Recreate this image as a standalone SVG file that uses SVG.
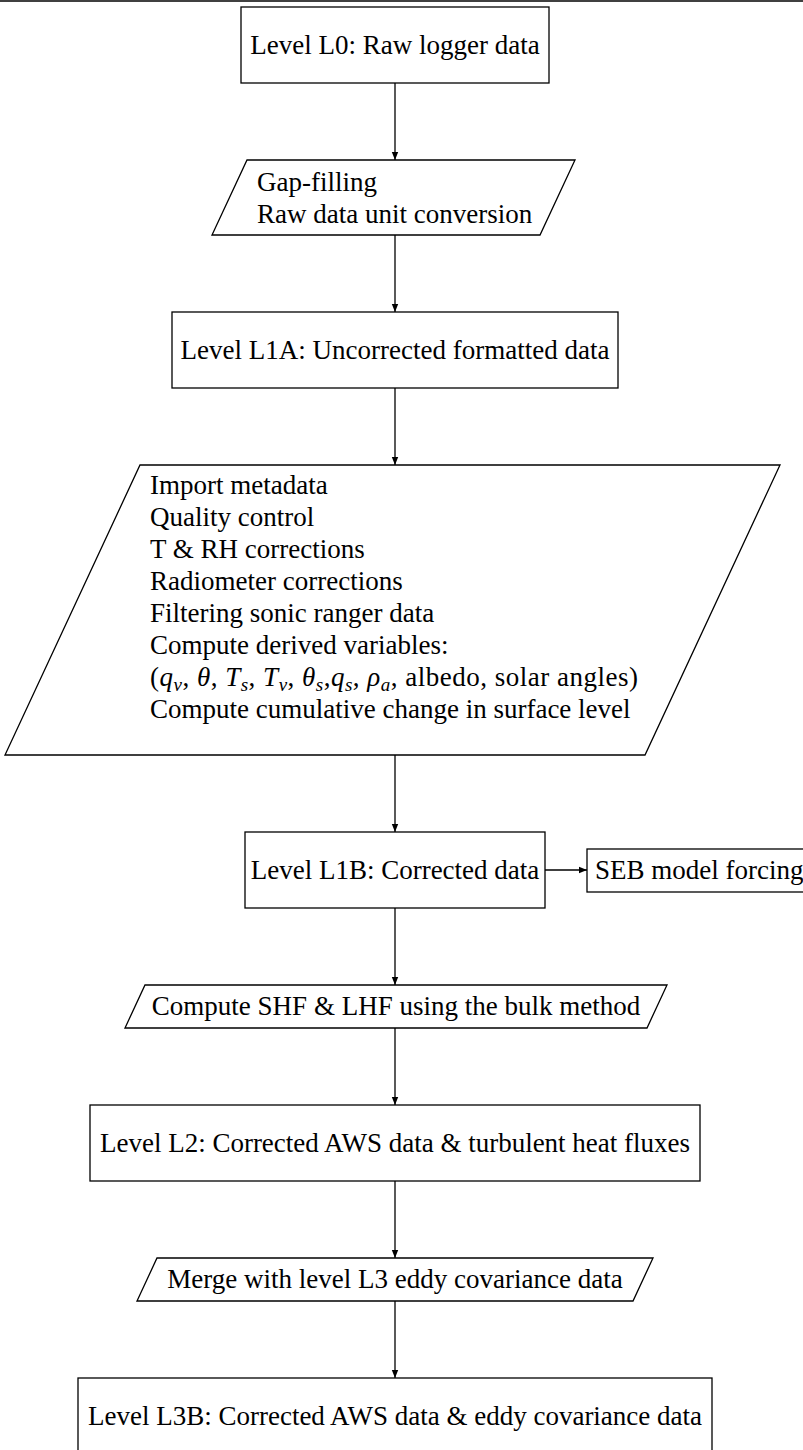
<svg xmlns="http://www.w3.org/2000/svg" width="803" height="1450" viewBox="0 0 803 1450">
<defs>
<style>
.n{fill:#fff;stroke:#000;stroke-width:1.3}
.t{font-family:"Liberation Serif","DejaVu Serif",serif;font-size:27px;fill:#000}
.c{text-anchor:middle}
.i{font-style:italic}
.s{font-style:italic;font-size:19px}
.e{stroke:#000;stroke-width:1.3;fill:none;marker-end:url(#ah)}
</style>
<marker id="ah" viewBox="0 0 10 10" refX="10" refY="5" markerWidth="9" markerHeight="8" markerUnits="userSpaceOnUse" orient="auto">
<path d="M0,1 L10,5 L0,9 Z" fill="#000"/>
</marker>
</defs>
<line x1="0" y1="1" x2="803" y2="1" stroke="#000" stroke-width="1.5"/>
<g id="edges">
<line class="e" x1="395" y1="83" x2="395" y2="160"/>
<line class="e" x1="395" y1="235" x2="395" y2="312"/>
<line class="e" x1="395" y1="388" x2="395" y2="465"/>
<line class="e" x1="395" y1="755" x2="395" y2="832"/>
<line class="e" x1="545" y1="870" x2="587" y2="870"/>
<line class="e" x1="395" y1="908" x2="395" y2="985"/>
<line class="e" x1="395" y1="1028" x2="395" y2="1105"/>
<line class="e" x1="395" y1="1181" x2="395" y2="1258"/>
<line class="e" x1="395" y1="1301" x2="395" y2="1378"/>
</g>
<g id="l0">
<rect class="n" x="241" y="7" width="308" height="76"/>
<text class="t c" x="395" y="54">Level L0: Raw logger data</text>
</g>
<g id="p1">
<polygon class="n" points="247,160 575,160 540,235 212,235"/>
<text class="t" x="257" y="191">Gap-filling</text>
<text class="t" x="257" y="223">Raw data unit conversion</text>
</g>
<g id="l1a">
<rect class="n" x="172" y="312" width="446" height="76"/>
<text class="t c" x="395" y="359">Level L1A: Uncorrected formatted data</text>
</g>
<g id="p2">
<polygon class="n" points="140,465 780,465 645,755 5,755"/>
<text class="t" x="150" y="494">Import metadata</text>
<text class="t" x="150" y="526">Quality control</text>
<text class="t" x="150" y="558">T &amp; RH corrections</text>
<text class="t" x="150" y="590">Radiometer corrections</text>
<text class="t" x="150" y="622">Filtering sonic ranger data</text>
<text class="t" x="150" y="654">Compute derived variables:</text>
<text class="t" x="150" y="686" textLength="488" lengthAdjust="spacing">(<tspan class="i">q</tspan><tspan class="s" dy="5">v</tspan><tspan dy="-5">, </tspan><tspan class="i">θ</tspan>, <tspan class="i">T</tspan><tspan class="s" dy="5">s</tspan><tspan dy="-5">, </tspan><tspan class="i">T</tspan><tspan class="s" dy="5">v</tspan><tspan dy="-5">, </tspan><tspan class="i">θ</tspan><tspan class="s" dy="5">s</tspan><tspan dy="-5">,</tspan><tspan class="i">q</tspan><tspan class="s" dy="5">s</tspan><tspan dy="-5">, </tspan><tspan class="i">ρ</tspan><tspan class="s" dy="5">a</tspan><tspan dy="-5">, albedo, solar angles)</tspan></text>
<text class="t" x="150" y="718">Compute cumulative change in surface level</text>
</g>
<g id="l1b">
<rect class="n" x="245" y="832" width="300" height="76"/>
<text class="t c" x="395" y="879">Level L1B: Corrected data</text>
</g>
<g id="seb">
<rect class="n" x="587" y="849" width="230" height="43"/>
<text class="t" x="595" y="879">SEB model forcing</text>
</g>
<g id="p3">
<polygon class="n" points="145,985 667,985 647,1028 125,1028"/>
<text class="t c" x="396" y="1015">Compute SHF &amp; LHF using the bulk method</text>
</g>
<g id="l2">
<rect class="n" x="90" y="1105" width="610" height="76"/>
<text class="t c" x="395" y="1152">Level L2: Corrected AWS data &amp; turbulent heat fluxes</text>
</g>
<g id="p4">
<polygon class="n" points="157,1258 653,1258 633,1301 137,1301"/>
<text class="t c" x="395" y="1288">Merge with level L3 eddy covariance data</text>
</g>
<g id="l3b">
<rect class="n" x="78" y="1378" width="634" height="100"/>
<text class="t c" x="395" y="1425">Level L3B: Corrected AWS data &amp; eddy covariance data</text>
</g>
</svg>
